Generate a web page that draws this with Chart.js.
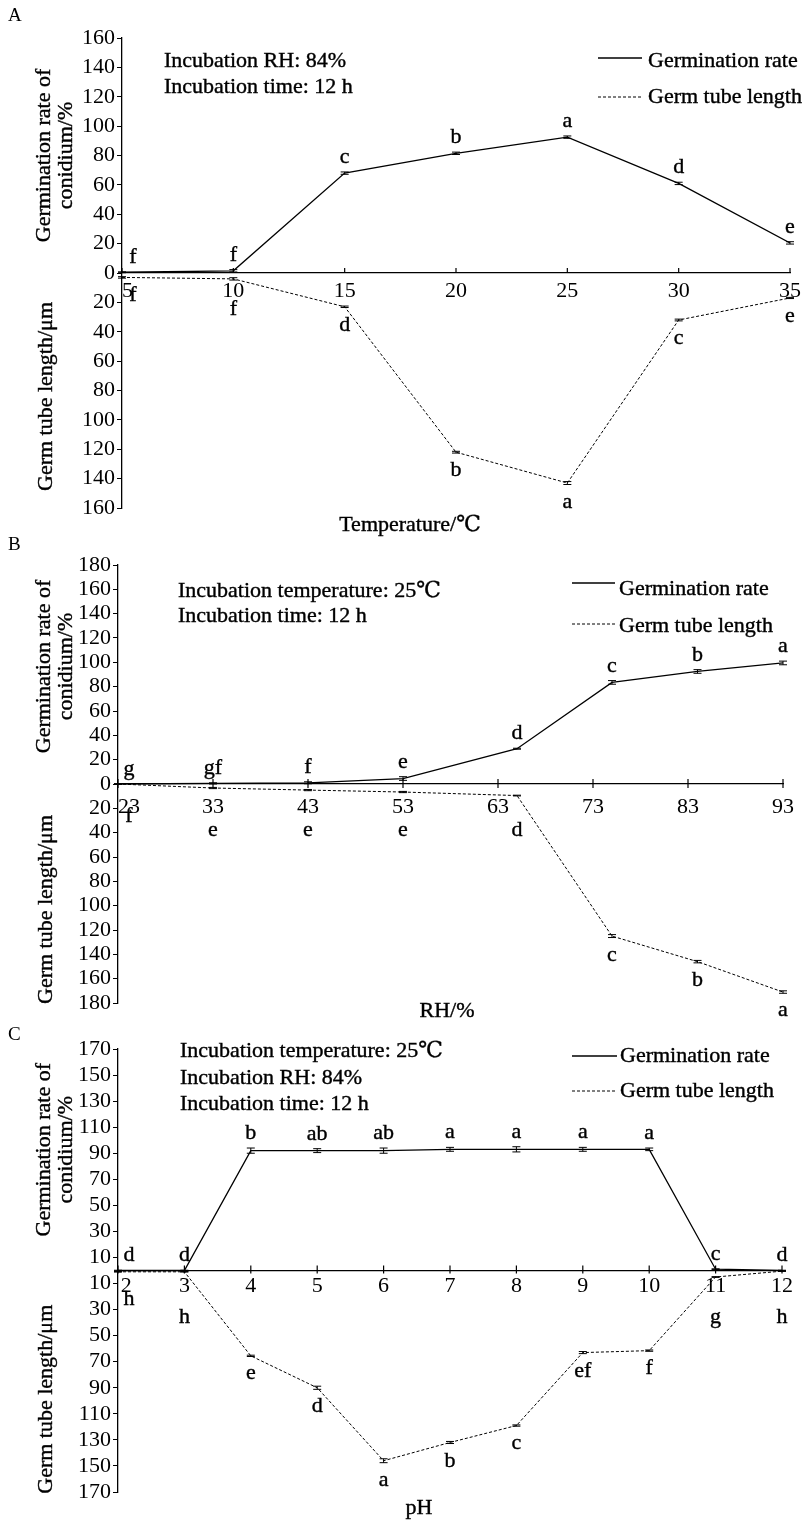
<!DOCTYPE html>
<html>
<head>
<meta charset="utf-8">
<script src="https://cdn.jsdelivr.net/npm/chart.js@4.4.0/dist/chart.umd.min.js"></script>
<style>
  body { margin: 0; background: #fff; }
  canvas { position: absolute; left: 0; }
</style>
</head>
<body>
<canvas id="chartA" width="810" height="540" style="top:0px"></canvas>
<canvas id="chartB" width="810" height="497" style="top:528px"></canvas>
<canvas id="chartC" width="810" height="504" style="top:1018px"></canvas>
<script>
// ========== DATA ==========
// A - temperature
const tempX = [5, 10, 15, 20, 25, 30, 35];
const tempTicks = [5, 10, 15, 20, 25, 30, 35];
const tempRate = [0.5, 1.5, 68, 81.5, 92.5, 61, 20.5];
const tempRateErr = [0.3, 0.8, 0.8, 0.8, 0.8, 0.8, 0.8];
const tempTube = [3, 4, 23, 122, 143, 32, 17];
const tempTubeErr = [0.5, 0.8, 0.5, 0.6, 1.0, 0.6, 0.4];
const tempRateLetters = ["f", "f", "c", "b", "a", "d", "e"];
const tempTubeLetters = ["f", "f", "d", "b", "a", "c", "e"];
const tempRateTicks = [0, 20, 40, 60, 80, 100, 120, 140, 160];
const tempTubeTicks = [20, 40, 60, 80, 100, 120, 140, 160];

// B - relative humidity
const rhX = [23, 33, 43, 53, 65, 75, 84, 93];
const rhTicks = [23, 33, 43, 53, 63, 73, 83, 93];
const rhRate = [0, 0.5, 1, 4.5, 29, 83.5, 92.5, 99.5];
const rhRateErr = [0.2, 0.5, 0.8, 1.5, 0.4, 1.5, 1.5, 1.5];
const rhTube = [0, 3.3, 5, 6.6, 9.5, 125, 146, 171];
const rhTubeErr = [0.2, 0.5, 0.5, 0.5, 0.3, 1.2, 1.0, 1.0];
const rhRateLetters = ["g", "gf", "f", "e", "d", "c", "b", "a"];
const rhTubeLetters = ["f", "e", "e", "e", "d", "c", "b", "a"];
const rhRateTicks = [0, 20, 40, 60, 80, 100, 120, 140, 160, 180];
const rhTubeTicks = [20, 40, 60, 80, 100, 120, 140, 160, 180];

// C - pH
const phX = [2, 3, 4, 5, 6, 7, 8, 9, 10, 11, 12];
const phTicks = [2, 3, 4, 5, 6, 7, 8, 9, 10, 11, 12];
const phRate = [0, 0, 92, 92, 92, 93, 93, 93, 93, 1, 0];
const phRateErr = [0.2, 0.2, 2, 1.5, 2, 1.5, 2, 1.5, 1, 0.3, 0.2];
const phTube = [1, 1, 65.5, 90, 146, 132, 119, 63, 61.5, 5, 0.5];
const phTubeErr = [0.2, 0.2, 0.5, 1.2, 1.5, 0.8, 0.5, 0.8, 0.5, 0.3, 0.2];
const phRateLetters = ["d", "d", "b", "ab", "ab", "a", "a", "a", "a", "c", "d"];
const phTubeLetters = ["h", "h", "e", "d", "a", "b", "c", "ef", "f", "g", "h"];
const phRateTicks = [10, 30, 50, 70, 90, 110, 130, 150, 170];
const phTubeTicks = [10, 30, 50, 70, 90, 110, 130, 150, 170];

// -------------- UTILS ----------------
const SERIF = '"Liberation Serif", "Times New Roman", "DejaVu Serif", serif';
function serif(px) { return px + "px " + SERIF; }

// ========== DECORATION PLUGIN ==========
const decor = {
  id: "decor",
  afterDatasetsDraw(chart, args, o) {
    const ctx = chart.ctx, xs = chart.scales.x, ys = chart.scales.y;
    const zero = ys.getPixelForValue(0);
    ctx.save();
    ctx.strokeStyle = "#000";
    ctx.fillStyle = "#000";

    // x axis tick marks
    ctx.lineWidth = 1.2;
    xs.ticks.forEach(t => {
      const px = xs.getPixelForValue(t.value);
      ctx.beginPath();
      ctx.moveTo(px, zero - o.tickUp);
      ctx.lineTo(px, zero + o.tickDown);
      ctx.stroke();
    });

    // error bars
    ctx.lineWidth = 1;
    o.series.forEach(s => {
      s.x.forEach((xv, i) => {
        const px = xs.getPixelForValue(xv);
        const v = s.sign * s.y[i];
        const y1 = ys.getPixelForValue(v + s.err[i]);
        const y2 = ys.getPixelForValue(v - s.err[i]);
        ctx.beginPath();
        ctx.moveTo(px, y1); ctx.lineTo(px, y2);
        ctx.moveTo(px - 4, y1); ctx.lineTo(px + 4, y1);
        ctx.moveTo(px - 4, y2); ctx.lineTo(px + 4, y2);
        ctx.stroke();
      });
    });

    // significance letters
    ctx.font = serif(22);
    ctx.textAlign = "center";
    ctx.textBaseline = "alphabetic";
    ctx.lineWidth = 0.4;
    o.series.forEach(s => {
      s.x.forEach((xv, i) => {
        let px = xs.getPixelForValue(xv);
        if (i === 0) px += 11;
        let y;
        if (s.sign > 0) {
          y = ys.getPixelForValue(s.y[i] + s.err[i]) - 9;
        } else {
          const below = ys.getPixelForValue(-(s.y[i] + s.err[i])) + 23;
          y = Math.max(below, zero + (i === 0 ? o.lowFirst : o.lowMin));
        }
        ctx.fillText(s.letters[i], px, y);
        ctx.strokeText(s.letters[i], px, y);
      });
    });
    ctx.restore();
  },
  afterDraw(chart, args, o) {
    const ctx = chart.ctx, top = o.top;
    const ys = chart.scales.y;
    ctx.save();
    ctx.fillStyle = "#000";
    ctx.strokeStyle = "#000";

    // panel letter
    ctx.font = serif(19);
    ctx.textAlign = "left";
    ctx.textBaseline = "alphabetic";
    ctx.fillText(o.panel, 8, o.panelY - top);

    // condition notes
    ctx.font = serif(22);
    ctx.lineWidth = 0.4;
    o.notes.forEach((t, i) => {
      ctx.fillText(t, o.noteX, o.noteY[i] - top);
      ctx.strokeText(t, o.noteX, o.noteY[i] - top);
    });

    // legend
    o.legend.forEach(lg => {
      ctx.beginPath();
      ctx.lineWidth = lg.dash ? 1 : 1.3;
      ctx.setLineDash(lg.dash ? [3, 2] : []);
      ctx.moveTo(o.legX1, lg.lineY - top);
      ctx.lineTo(o.legX2, lg.lineY - top);
      ctx.stroke();
      ctx.setLineDash([]);
      ctx.lineWidth = 0.4;
      ctx.fillText(lg.text, o.legTextX, lg.textY - top);
      ctx.strokeText(lg.text, o.legTextX, lg.textY - top);
    });

    // x axis title
    ctx.textAlign = "center";
    ctx.fillText(o.xTitle, o.xTitleX, o.xTitleY - top);
    ctx.strokeText(o.xTitle, o.xTitleX, o.xTitleY - top);

    // rotated y titles
    const zero = ys.getPixelForValue(0);
    const upMid = (ys.top + zero) / 2 + o.rateShift;
    const lowMid = (zero + ys.bottom) / 2 + o.tubeShift;
    ctx.textBaseline = "middle";
    const rot = (text, x, y) => {
      ctx.save();
      ctx.translate(x, y);
      ctx.rotate(-Math.PI / 2);
      ctx.fillText(text, 0, 0);
      ctx.strokeText(text, 0, 0);
      ctx.restore();
    };
    rot("Germination rate of", 44, upMid);
    rot("conidium/%", 66, upMid);
    rot("Germ tube length/\u03bcm", 46, lowMid);
    ctx.restore();
  }
};

// ========== CHART FACTORY ==========
function makePanel(id, p) {
  const yTicks = p.rateTicks.concat(p.tubeTicks.map(v => -v));
  return new Chart(document.getElementById(id), {
    type: "line",
    data: {
      datasets: [
        {
          label: "Germination rate",
          data: p.x.map((x, i) => ({ x, y: p.rate[i] })),
          borderColor: "#000", borderWidth: 1.3, pointRadius: 0, fill: false, tension: 0
        },
        {
          label: "Germ tube length",
          data: p.x.map((x, i) => ({ x, y: -p.tube[i] })),
          borderColor: "#000", borderWidth: 1, borderDash: [3, 2], pointRadius: 0, fill: false, tension: 0
        }
      ]
    },
    options: {
      responsive: false,
      animation: false,
      layout: { padding: { left: 0, right: 810 - p.right, top: p.areaTop - p.top, bottom: p.bottomPad } },
      scales: {
        x: {
          type: "linear",
          position: { y: 0 },
          min: p.xTicks[0], max: p.xTicks[p.xTicks.length - 1],
          afterBuildTicks: s => { s.ticks = p.xTicks.map(v => ({ value: v })); },
          afterFit: s => { s.height = 0; },
          grid: { display: false },
          border: { display: true, color: "#000", width: 1.3 },
          ticks: {
            autoSkip: false, maxRotation: 0, padding: p.xPad, color: "#000",
            font: { family: SERIF, size: 22 },
            // first label sits just right of the y axis, like the original
            callback: (v, i) => (i === 0 ? p.firstPad : "") + v
          }
        },
        y: {
          type: "linear",
          min: -p.yMax, max: p.yMax,
          afterBuildTicks: s => { s.ticks = yTicks.map(v => ({ value: v })); },
          afterFit: s => { s.width = p.left; },
          grid: { drawOnChartArea: false, drawTicks: true, tickLength: 5, color: "#000", lineWidth: 1 },
          border: { display: true, color: "#000", width: 1.3 },
          ticks: {
            autoSkip: false, padding: 2, color: "#000",
            font: { family: SERIF, size: 22 },
            callback: v => String(Math.abs(v))
          }
        }
      },
      plugins: {
        legend: { display: false },
        tooltip: { enabled: false },
        decor: {
          top: p.top,
          tickUp: p.tickUp, tickDown: p.tickDown,
          lowMin: p.lowMin, lowFirst: p.lowFirst,
          series: [
            { x: p.x, y: p.rate, err: p.rateErr, letters: p.rateLetters, sign: 1 },
            { x: p.x, y: p.tube, err: p.tubeErr, letters: p.tubeLetters, sign: -1 }
          ],
          panel: p.panel, panelY: p.panelY,
          notes: p.notes, noteX: p.noteX, noteY: p.noteY,
          legX1: p.legX1, legX2: p.legX2, legTextX: p.legTextX,
          legend: [
            { text: "Germination rate", lineY: p.legY[0], textY: p.legTY[0], dash: false },
            { text: "Germ tube length", lineY: p.legY[1], textY: p.legTY[1], dash: true }
          ],
          xTitle: p.xTitle, xTitleX: p.xTitleX, xTitleY: p.xTitleY,
          rateShift: p.rateShift, tubeShift: p.tubeShift
        }
      }
    },
    plugins: [decor]
  });
}

// ========== INICIO ==========
makePanel("chartA", {
  top: 0, areaTop: 38, bottomPad: 540 - 508, left: 122, right: 790, yMax: 160,
  x: tempX, xTicks: tempTicks, rate: tempRate, rateErr: tempRateErr, tube: tempTube, tubeErr: tempTubeErr,
  rateLetters: tempRateLetters, tubeLetters: tempTubeLetters,
  rateTicks: tempRateTicks, tubeTicks: tempTubeTicks,
  xPad: -3, firstPad: "  ", tickUp: 5, tickDown: 0, lowMin: 42, lowFirst: 26,
  panel: "A", panelY: 21,
  notes: ["Incubation RH: 84%", "Incubation time: 12 h"], noteX: 164, noteY: [67, 93],
  legX1: 598, legX2: 642, legTextX: 648, legY: [58, 97], legTY: [67, 103],
  xTitle: "Temperature/\u2103", xTitleX: 410, xTitleY: 531,
  rateShift: 0, tubeShift: 6
});

makePanel("chartB", {
  top: 528, areaTop: 565, bottomPad: 1025 - 1003, left: 118, right: 783, yMax: 180,
  x: rhX, xTicks: rhTicks, rate: rhRate, rateErr: rhRateErr, tube: rhTube, tubeErr: rhTubeErr,
  rateLetters: rhRateLetters, tubeLetters: rhTubeLetters,
  rateTicks: rhRateTicks, tubeTicks: rhTubeTicks,
  xPad: 2, firstPad: "    ", tickUp: 5, tickDown: 4, lowMin: 52, lowFirst: 38,
  panel: "B", panelY: 550,
  notes: ["Incubation temperature: 25\u2103", "Incubation time: 12 h"], noteX: 178, noteY: [597, 622],
  legX1: 572, legX2: 615, legTextX: 619, legY: [583, 624], legTY: [595, 632],
  xTitle: "RH/%", xTitleX: 447, xTitleY: 1017,
  rateShift: -8, tubeShift: 16
});

makePanel("chartC", {
  top: 1018, areaTop: 1049, bottomPad: 1522 - 1492, left: 118, right: 782, yMax: 170,
  x: phX, xTicks: phTicks, rate: phRate, rateErr: phRateErr, tube: phTube, tubeErr: phTubeErr,
  rateLetters: phRateLetters, tubeLetters: phTubeLetters,
  rateTicks: phRateTicks, tubeTicks: phTubeTicks,
  xPad: -5, firstPad: "   ", tickUp: 5, tickDown: 3, lowMin: 52, lowFirst: 34,
  panel: "C", panelY: 1040,
  notes: ["Incubation temperature: 25\u2103", "Incubation RH: 84%", "Incubation time: 12 h"], noteX: 180, noteY: [1057, 1084, 1110],
  legX1: 572, legX2: 617, legTextX: 620, legY: [1056, 1091], legTY: [1062, 1097],
  xTitle: "pH", xTitleX: 419, xTitleY: 1514,
  rateShift: -10, tubeShift: 18
});
</script>
</body>
</html>
